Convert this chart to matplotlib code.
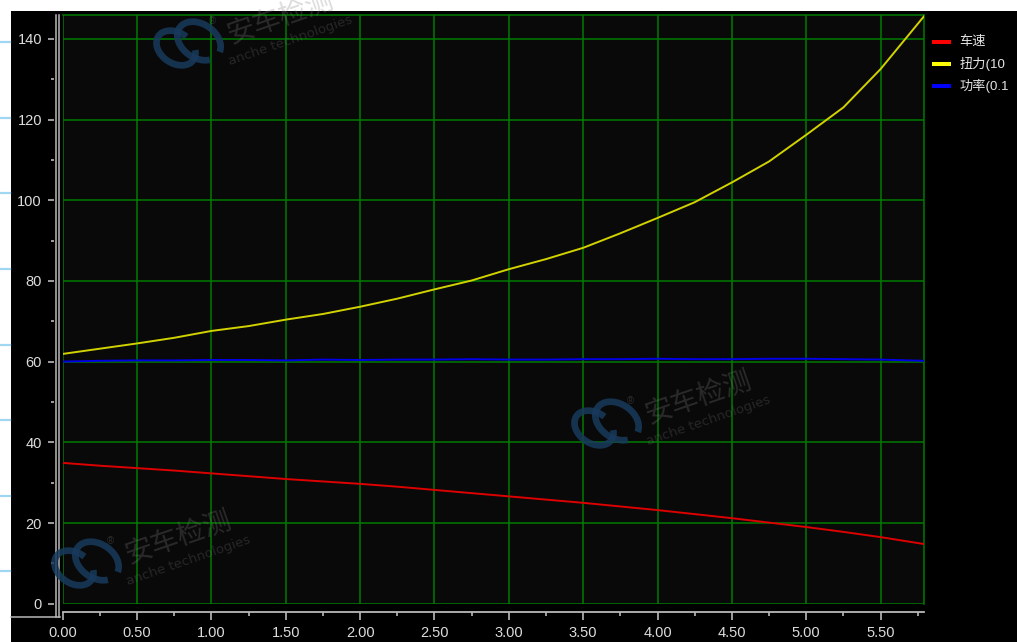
import matplotlib
matplotlib.use("Agg")
import matplotlib.pyplot as plt
from matplotlib.lines import Line2D
from matplotlib.patches import Rectangle, Arc
from matplotlib.ticker import MultipleLocator, FormatStrFormatter

plt.rcParams['font.family'] = ['Liberation Sans', 'Noto Sans CJK SC', 'DejaVu Sans']

# sampled test data (time in s)
t = [0.00, 0.25, 0.50, 0.75, 1.00, 1.25, 1.50, 1.75, 2.00, 2.25, 2.50, 2.75,
     3.00, 3.25, 3.50, 3.75, 4.00, 4.25, 4.50, 4.75, 5.00, 5.25, 5.50, 5.79]
speed = [34.9, 34.2, 33.6, 33.0, 32.3, 31.6, 30.9, 30.3, 29.7, 29.0, 28.2, 27.4,
         26.6, 25.8, 25.0, 24.1, 23.2, 22.2, 21.2, 20.1, 19.0, 17.8, 16.5, 14.8]
torque = [61.9, 63.2, 64.5, 65.9, 67.6, 68.8, 70.4, 71.8, 73.6, 75.6, 77.9, 80.1,
          82.9, 85.4, 88.2, 91.8, 95.6, 99.5, 104.4, 109.6, 116.2, 123.0, 132.5, 145.5]
power = [60.0, 60.2, 60.3, 60.3, 60.4, 60.4, 60.3, 60.5, 60.4, 60.5, 60.5, 60.6,
         60.5, 60.5, 60.6, 60.6, 60.7, 60.6, 60.6, 60.7, 60.7, 60.6, 60.5, 60.2]

series_labels = ['车速', '扭力(10', '功率(0.1']
line_colors = ['#dd0000', '#d2d200', '#0000e6']
swatch_colors = ['#ff0000', '#ffff00', '#0000ff']

W, H = 1017, 642


def fx(x):
    return x / W


def fy(y):
    return 1 - y / H


fig = plt.figure(figsize=(W / 100, H / 100), dpi=100, facecolor='white')

# dark panel behind everything
fig.add_artist(Rectangle((fx(11), 0), 1 - fx(11), fy(11), transform=fig.transFigure,
                         facecolor='black', edgecolor='none', zorder=-10))

# light blue marks on the left margin
for yy in [42, 118, 193, 269, 345, 420, 496, 571]:
    fig.add_artist(Line2D([0, fx(10)], [fy(yy), fy(yy)], transform=fig.transFigure,
                          color='#9fd6f2', lw=1.6))

left, right, top, bottom = 62.7, 924.3, 15.0, 603.7
ax = fig.add_axes([fx(left), fy(bottom), fx(right - left), (bottom - top) / H])
ax.set_facecolor('#090909')

ax.plot(t, speed, color=line_colors[0], lw=1.4, zorder=3)
ax.plot(t, torque, color=line_colors[1], lw=1.4, zorder=3)
ax.plot(t, power, color=line_colors[2], lw=1.4, zorder=3)

ax.set_xlim(0, 5.794)
ax.set_ylim(0, 145.9)
ax.xaxis.set_major_locator(MultipleLocator(0.5))
ax.xaxis.set_minor_locator(MultipleLocator(0.25))
ax.yaxis.set_major_locator(MultipleLocator(20))
ax.yaxis.set_minor_locator(MultipleLocator(10))
ax.xaxis.set_major_formatter(FormatStrFormatter('%.2f'))
ax.grid(True, which='major', color='#007a00', lw=1.1)
ax.set_axisbelow(True)

for s in ['top', 'right']:
    ax.spines[s].set_color('#007a00')
    ax.spines[s].set_linewidth(1.1)
ax.spines['left'].set_position(('outward', 9.2 * 0.72))
ax.spines['left'].set_edgecolor('none')
ax.spines['bottom'].set_position(('outward', 8.0 * 0.72))
ax.spines['bottom'].set_color('#b8b8b8')
ax.spines['bottom'].set_linewidth(1.3)

ax.tick_params(axis='y', which='major', direction='out', length=4.3, width=1.1,
               color='#c8c8c8', labelcolor='#dcdcdc', labelsize=10.5, pad=4.0)
ax.tick_params(axis='y', which='minor', direction='out', length=2.2, width=1.1,
               color='#c8c8c8')
ax.tick_params(axis='x', which='major', direction='out', length=6.0, width=1.1,
               color='#c8c8c8', labelcolor='#dcdcdc', labelsize=10.5, pad=4.6)
ax.tick_params(axis='x', which='minor', direction='out', length=3.0, width=1.1,
               color='#c8c8c8')

# double ruler line of the value axis
for xx in [55.7, 59.3]:
    fig.add_artist(Line2D([fx(xx), fx(xx)], [fy(15), fy(616.7)], transform=fig.transFigure,
                          color='#b8b8b8', lw=1.1))
fig.add_artist(Line2D([fx(11), fx(60)], [fy(616.7), fy(616.7)], transform=fig.transFigure,
                      color='#b8b8b8', lw=1.1))

# legend to the right of the plot
for i, (lab, c) in enumerate(zip(series_labels, swatch_colors)):
    yy = 41.7 + 22.0 * i
    fig.add_artist(Line2D([fx(932.3), fx(950.7)], [fy(yy), fy(yy)], transform=fig.transFigure,
                          color=c, lw=2.9, solid_capstyle='butt'))
    fig.text(fx(959.3), fy(yy), lab, color='#e4e4e4', fontsize=9.5, va='center', ha='left')


# faint company watermark
def watermark(ox, oy):
    blue = '#183a5c'
    fig.add_artist(Arc((fx(594 + ox), fy(428 + oy)), 36 / W, 36 / H, angle=20,
                       theta1=40, theta2=330, transform=fig.transFigure,
                       color=blue, lw=4.8, alpha=0.85, zorder=5))
    fig.add_artist(Arc((fx(617 + ox), fy(421 + oy)), 40 / W, 40 / H, angle=20,
                       theta1=-60, theta2=270, transform=fig.transFigure,
                       color=blue, lw=4.8, alpha=0.85, zorder=5))
    fig.text(fx(630 + ox), fy(401 + oy), '®', color='#808080', alpha=0.3,
             fontsize=7, ha='center', va='center', zorder=5)
    fig.text(fx(698 + ox), fy(398 + oy), '安车检测', color='#808080', alpha=0.28,
             fontsize=20, rotation=19, ha='center', va='center', zorder=5,
             family=['Noto Sans CJK SC'])
    fig.text(fx(708 + ox), fy(421 + oy), 'anche technologies', color='#808080', alpha=0.25,
             fontsize=9.5, rotation=19, ha='center', va='center', zorder=5,
             family=['DejaVu Sans'])


watermark(0, 0)
watermark(-520, 140)
watermark(-418, -380)

fig.savefig('out.png', dpi=100, facecolor=fig.get_facecolor())
